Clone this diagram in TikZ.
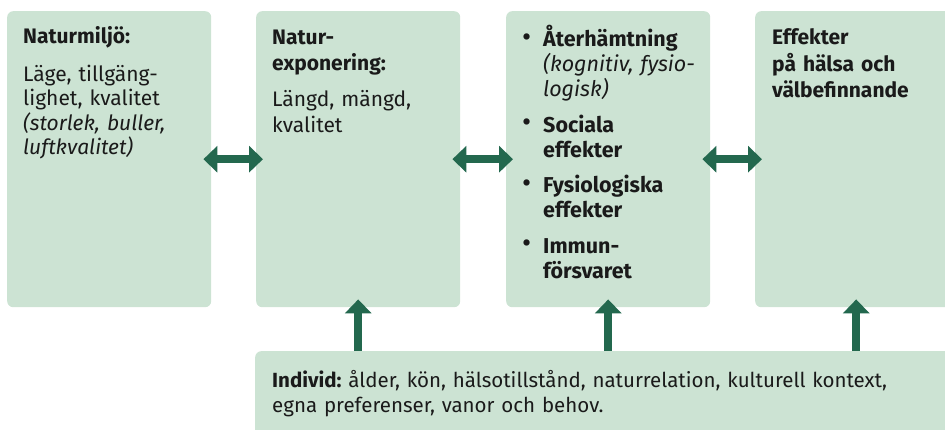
\documentclass[tikz,border=0pt]{standalone}
\usepackage{fontspec}
\setmainfont{Fira Sans}
\usetikzlibrary{arrows.meta,calc}
\definecolor{boxfill}{HTML}{CCE3D3}
\definecolor{arrowc}{HTML}{23684E}
\definecolor{textc}{HTML}{1A1A1A}
\newcommand{\bulitem}{\leavevmode\llap{\makebox[21pt][l]{\raisebox{0.5pt}{\scalebox{1.3}{\textbullet}}}}}
\begin{document}
\frenchspacing
\begin{tikzpicture}[x=1pt,y=-1pt,
  panel/.style={fill=boxfill, draw=none, rounded corners=6pt, anchor=north west, inner sep=0pt, minimum height=296pt},
  txt/.style={anchor=base west, inner sep=0pt, align=left, text width=#1, text=textc},
  arr/.style={draw=arrowc, line width=8pt, -{Triangle[width=26pt,length=14pt]}, shorten >=-8pt},
  darr/.style={draw=arrowc, line width=8pt, {Triangle[width=26pt,length=14pt]}-{Triangle[width=26pt,length=14pt]}, shorten >=-7pt, shorten <=-8pt}]
\useasboundingbox (0,0) rectangle (945,430);
\clip (0,0) rectangle (945,430);
% panels
\node[panel, minimum width=204pt] (b1) at (7,11) {};
\node[panel, minimum width=204pt] (b2) at (256,11) {};
\node[panel, minimum width=204pt] (b3) at (506,11) {};
\node[panel, minimum width=202pt] (b4) at (755,11) {};
\node[panel, minimum width=710pt, minimum height=100pt] (bot) at (255,351) {};
% texts
\node[txt=300pt, font=\fontsize{21}{24.5}\selectfont] (t1) at (23,44)
  {\textbf{Naturmiljö:}\\[13pt]Läge, tillgäng-\\lighet, kvalitet\\\textit{(storlek, buller,}\\\textit{luftkvalitet)}};
\node[txt=300pt, font=\fontsize{21}{26}\selectfont] (t2) at (272,45)
  {\textbf{Natur-}\\\textbf{exponering:}\\[10pt]Längd, mängd,\\kvalitet};
\node[txt=300pt, font=\fontsize{21.5}{25}\selectfont] (t3) at (543,47)
  {\bulitem\textbf{Återhämtning}\\\textit{(kognitiv, fysio-}\\\textit{logisk)}\\[10.5pt]%
   \bulitem\textbf{Sociala}\\\textbf{effekter}\\[10.5pt]%
   \bulitem\textbf{Fysiologiska}\\\textbf{effekter}\\[10.5pt]%
   \bulitem\textbf{Immun-}\\\textbf{försvaret}};
\node[txt=300pt, font=\fontsize{21}{26.5}\selectfont] (t4) at (772,45)
  {\textbf{Effekter}\\\textbf{på hälsa och}\\\textbf{välbefinnande}};
\node[txt=660pt, font=\fontsize{20.5}{25}\selectfont] (t5) at (272,387)
  {\textbf{Individ:} ålder, kön, hälsotillstånd, naturrelation, kulturell kontext,\\egna preferenser, vanor och behov.};
% connectors
\draw[darr] (b1.east) -- (b2.west);
\draw[darr] (b2.east) -- (b3.west);
\draw[darr] (b3.east) -- (b4.west);
\draw[arr] (b2.south |- bot.north) -- (b2.south);
\draw[arr] (b3.south |- bot.north) -- (b3.south);
\draw[arr] (b4.south |- bot.north) -- (b4.south);
\end{tikzpicture}
\end{document}
